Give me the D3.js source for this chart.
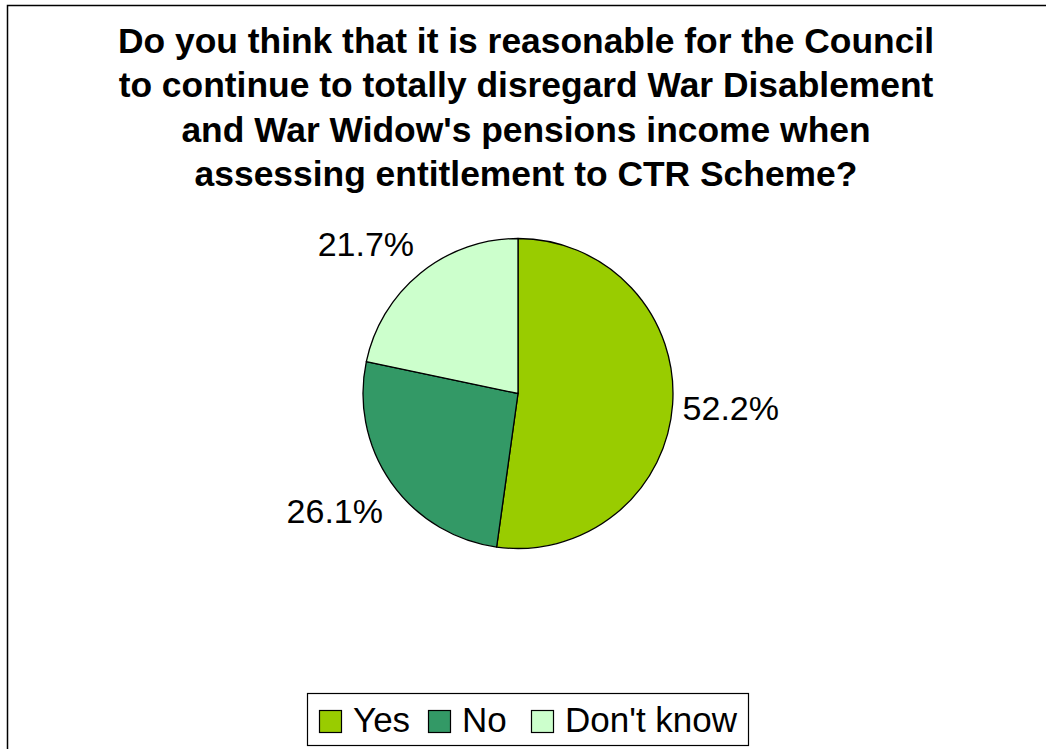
<!DOCTYPE html>
<html>
<head>
<meta charset="utf-8">
<script src="https://cdn.jsdelivr.net/npm/d3@7"></script>
<style>
  html, body { margin: 0; padding: 0; background: #fff; }
  svg { display: block; font-family: Arial, "Liberation Sans", sans-serif; }
</style>
</head>
<body>
<svg id="chart" width="1046" height="749"></svg>
<script>
// Survey responses (share of respondents, %)
const categories = ["Yes", "No", "Don't know"];
const values = [52.2, 26.1, 21.7];
const colors = ["#99CC00", "#339966", "#CCFFCC"];
const titleLines = [
  "Do you think that it is reasonable for the Council",
  "to continue to totally disregard War Disablement",
  "and War Widow's pensions income when",
  "assessing entitlement to CTR Scheme?"
];

const svg = d3.select("#chart");

// chart frame
svg.append("rect")
  .attr("x", 7.5).attr("y", 5.5)
  .attr("width", 1100).attr("height", 800)
  .attr("fill", "#fff").attr("stroke", "#000").attr("stroke-width", 1.5);

// title
const title = svg.append("text")
  .attr("text-anchor", "middle")
  .attr("font-weight", "bold")
  .attr("font-size", 35.4)
  .attr("fill", "#000");
titleLines.forEach((t, i) => {
  title.append("tspan").attr("x", 526).attr("y", 53 + i * 44.3).text(t);
});

// pie
const cx = 518, cy = 393.5, r = 155;
const color = d3.scaleOrdinal().domain(categories).range(colors);
const pie = d3.pie().sort(null).value(d => d.value);
const data = categories.map((c, i) => ({ name: c, value: values[i] }));
const arcs = pie(data);
const arc = d3.arc().innerRadius(0).outerRadius(r);

const g = svg.append("g").attr("transform", `translate(${cx},${cy})`);
g.selectAll("path.slice")
  .data(arcs)
  .join("path")
  .attr("class", "slice")
  .attr("d", arc)
  .attr("fill", d => color(d.data.name))
  .attr("stroke", "#000")
  .attr("stroke-width", 1.3)
  .attr("stroke-linejoin", "round");

// percentage labels, placed just outside the end of each slice
const labelSize = 34;
const gap = 10;
const clamp = v => Math.max(-1, Math.min(1, v));
g.selectAll("text.pct")
  .data(arcs)
  .join("text")
  .attr("class", "pct")
  .attr("font-size", labelSize)
  .attr("fill", "#000")
  .attr("text-anchor", "middle")
  .text(d => d3.format(".1f")(d.data.value) + "%")
  .each(function(d) {
    const a = (d.startAngle + d.endAngle) / 2;
    const w = this.getBBox().width;
    const halfH = 22;
    const px = Math.sin(a) * (r + gap), py = -Math.cos(a) * (r + gap);
    const lx = px + clamp(Math.sin(a) * 2) * w / 2;
    const ly = py + clamp(-Math.cos(a) * 2) * halfH;
    d3.select(this)
      .attr("x", lx)
      .attr("y", ly + labelSize * 0.716 / 2);
  });

// legend
const legX = 307.5, legY = 693.5, legW = 441, legH = 52;
const leg = svg.append("g");
leg.append("rect")
  .attr("x", legX).attr("y", legY).attr("width", legW).attr("height", legH)
  .attr("fill", "#fff").attr("stroke", "#000").attr("stroke-width", 1.2);
const legendStarts = [319, 428, 531];
categories.forEach((c, i) => {
  const x = legendStarts[i];
  leg.append("rect")
    .attr("x", x + 0.5).attr("y", 710.5).attr("width", 22).attr("height", 22)
    .attr("fill", colors[i]).attr("stroke", "#000").attr("stroke-width", 1.2);
  leg.append("text")
    .attr("x", x + 34).attr("y", 732)
    .attr("font-size", 35)
    .attr("fill", "#000")
    .text(c);
});
</script>
</body>
</html>
